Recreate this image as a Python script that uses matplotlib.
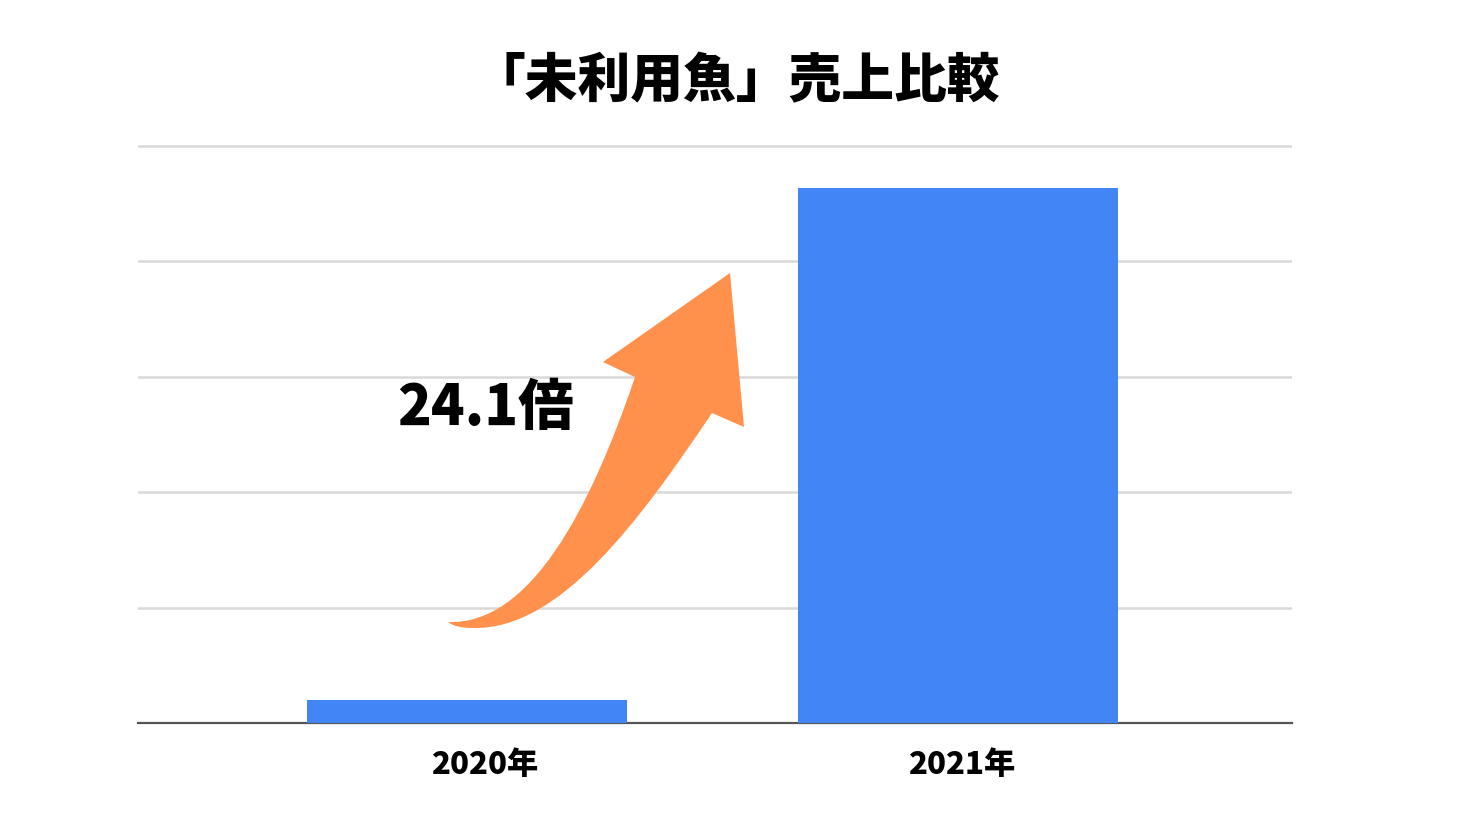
import matplotlib.pyplot as plt
import matplotlib.transforms as mtransforms
from matplotlib.path import Path
from matplotlib.patches import PathPatch

plt.rcParams['font.family'] = ['Noto Sans CJK JP', 'DejaVu Sans']

# data
years = ['2020年', '2021年']
sales = [1.0, 23.2]
ratio_label = '24.1倍'
title = '「未利用魚」売上比較'

W, H = 1467, 825
fig = plt.figure(figsize=(W / 100, H / 100), dpi=100)

# axes placed in pixel terms of the reference
ax_left, ax_right = 138, 1292
ax_base, ax_top = 723, 146 - 0.5 * 577 / 25
ax = fig.add_axes([ax_left / W, 1 - ax_base / H,
                   (ax_right - ax_left) / W, (ax_base - ax_top) / H])

x = list(range(len(years)))
ax.bar(x, sales, width=0.652, color='#4285F4', zorder=3)

ax.set_xlim(-0.670, 1.680)
ax.set_ylim(0, 25.5)
ax.set_yticks([0, 5, 10, 15, 20, 25])
ax.yaxis.grid(True, color='#d9d9d9', linewidth=1.8, zorder=0)
ax.set_axisbelow(True)
ax.tick_params(axis='y', length=0, labelleft=False)
ax.set_xticks(x)
ax.set_xticklabels(years, fontsize=22.5, fontweight='heavy')
ax.tick_params(axis='x', length=0, pad=19)
# labels in the reference sit slightly right of the bar centres
for lbl, dx in zip(ax.get_xticklabels(), [18, 4]):
    lbl.set_transform(lbl.get_transform() +
                      mtransforms.ScaledTranslation(dx / 100, 0, fig.dpi_scale_trans))
for s in ['top', 'right', 'left']:
    ax.spines[s].set_visible(False)
ax.spines['bottom'].set_color('#555555')
ax.spines['bottom'].set_linewidth(1.6)
ax.spines['bottom'].set_zorder(2)

fig.text(0.502, 1 - 82 / H, title, ha='center', va='center',
         fontsize=38, fontweight='heavy')

# curved arrow (decoration), drawn in figure pixels
def p(px, py):
    return (px / W, 1 - py / H)

verts = [
    p(448, 622),
    p(530, 625), p(590, 510), p(635, 377),
    p(603, 362),
    p(730, 273),
    p(744, 427),
    p(712, 413),
    p(640, 520), p(560, 630), p(473, 628),
    p(455, 628), p(448, 622),
    p(448, 622),
]
codes = [Path.MOVETO,
         Path.CURVE4, Path.CURVE4, Path.CURVE4,
         Path.LINETO, Path.LINETO, Path.LINETO, Path.LINETO,
         Path.CURVE4, Path.CURVE4, Path.CURVE4,
         Path.CURVE3, Path.CURVE3,
         Path.CLOSEPOLY]
arrow = PathPatch(Path(verts, codes), transform=fig.transFigure,
                  facecolor='#FF914D', edgecolor='none', zorder=5)
fig.patches.append(arrow)

fig.text(485 / W, 1 - 409 / H, ratio_label, ha='center', va='center',
         fontsize=40, fontweight='heavy')

fig.savefig('out.png', dpi=100)
